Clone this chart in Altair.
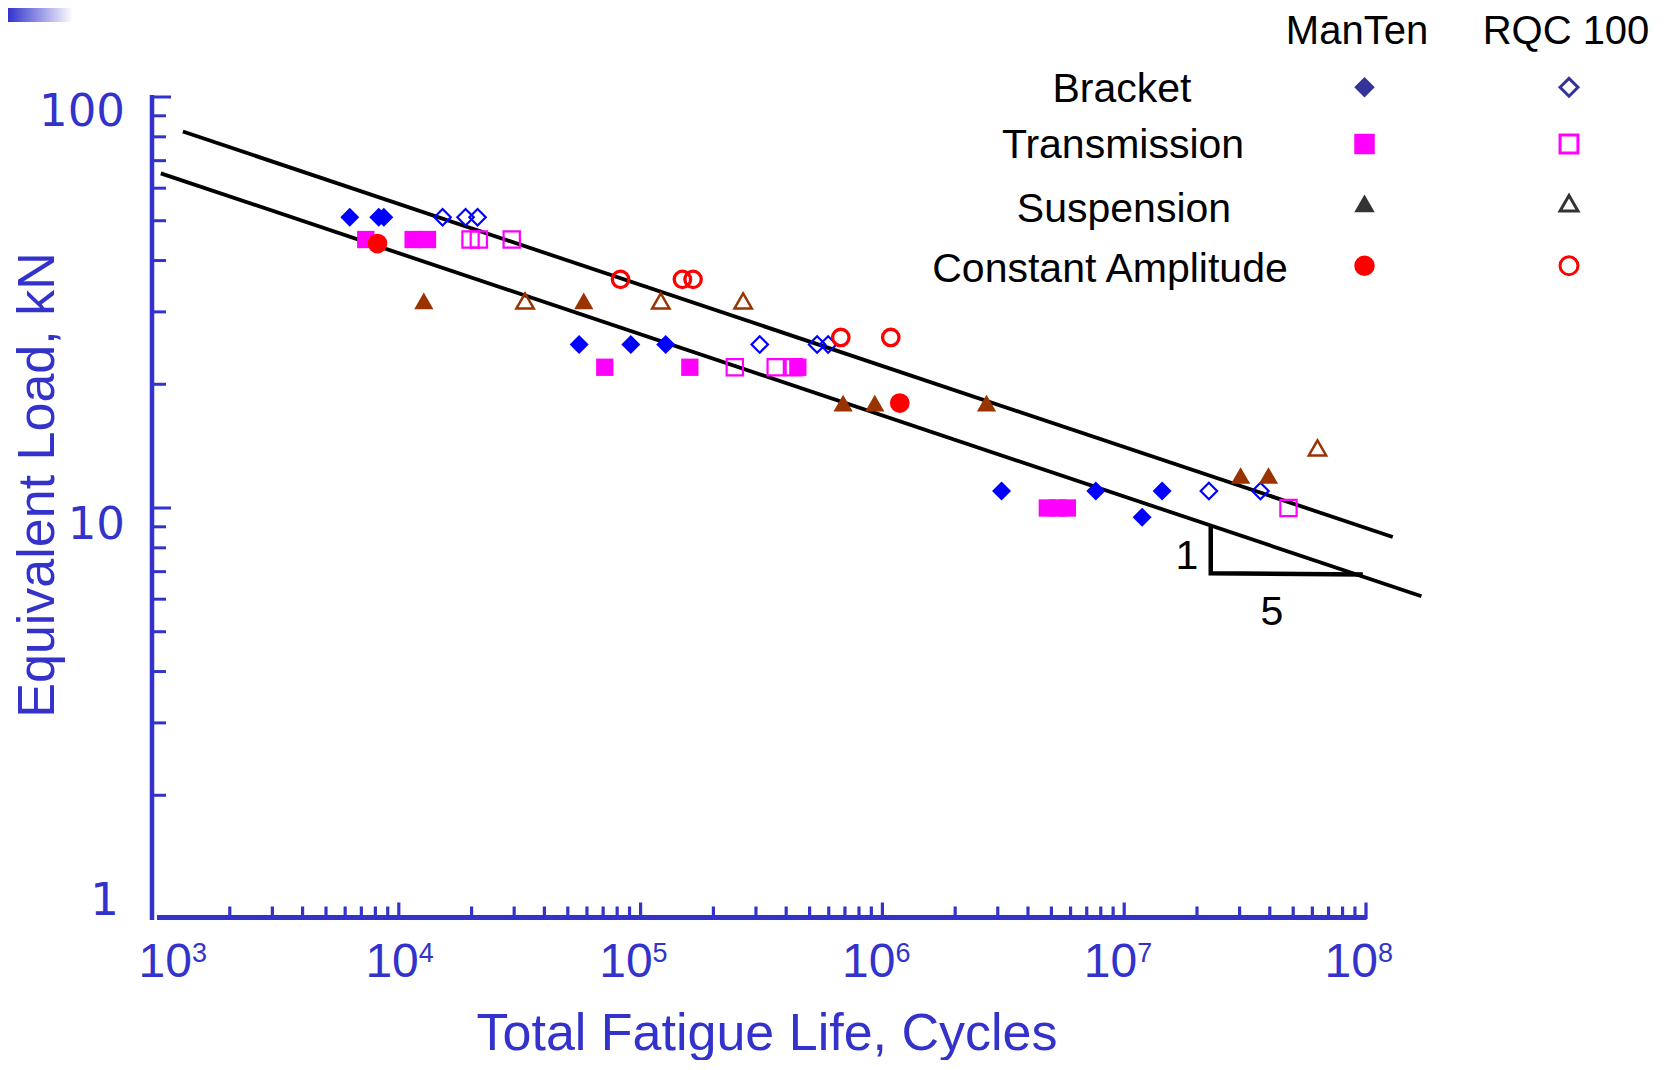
import altair as alt
import pandas as pd

AX = "#3333CC"
SANS = "Liberation Sans"

# ---------------- data ----------------
categories = ["Bracket", "Transmission", "Suspension", "Constant Amplitude"]
steels = ["ManTen", "RQC 100"]

bracket_manten_N = [6270, 8260, 8670, 55700, 91100, 127000, 3110000, 7630000, 11860000, 14350000]
bracket_manten_P = [51, 51, 51, 25, 25, 25, 11, 11, 9.5, 11]
bracket_rqc_N = [15170, 18880, 21170, 311000, 537000, 596500, 22400000, 36600000]
bracket_rqc_P = [51, 51, 51, 25, 25, 25, 11, 11]

transmission_manten_N = [7300, 11460, 13140, 71100, 159800, 447000, 4810000, 5290000, 5820000]
transmission_manten_P = [45, 45, 45, 22, 22, 22, 10, 10, 10]
transmission_rqc_N = [19800, 21430, 29310, 245200, 362000, 430000, 47800000]
transmission_rqc_P = [45, 45, 45, 22, 22, 22, 10]

suspension_manten_N = [12690, 58200, 687800, 930000, 2695000, 30300000, 39500000]
suspension_manten_P = [31.9, 31.9, 18, 18, 18, 12, 12]
suspension_rqc_N = [33290, 121200, 265500, 63000000]
suspension_rqc_P = [31.9, 31.9, 31.9, 14]

constant_manten_N = [8165, 1180000]
constant_manten_P = [44, 18]
constant_rqc_N = [82600, 148900, 164800, 673000, 1083000]
constant_rqc_P = [36, 36, 36, 26, 26]

# fitted S-N lines (end points)
upper_N = [1280, 129000000]
upper_P = [82.4, 8.5]
lower_N = [1037, 169600000]
lower_P = [65.2, 6.1]

# 1:5 slope triangle
tri_N = [22800000, 22800000, 97000000]
tri_P = [8.99, 6.94, 6.89]
slope_labels = ["1", "5"]
slope_N = [18150000, 40800000]
slope_P = [7.61, 5.565]

# axis ticks and labels
x_exponents = [3, 4, 5, 6, 7, 8]
x_major_ticks = [1e4, 1e5, 1e6, 1e7, 1e8]
x_minor_ticks = [m * 10 ** d for d in range(3, 8) for m in range(2, 10)]
y_major_ticks = [10, 100]
y_minor_ticks = [m * 10 ** d for d in range(0, 2) for m in range(2, 10)]
y_label_values = [1, 10, 100]
y_label_texts = ["1", "10", "100"]

x_title = "Total Fatigue Life, Cycles"
y_title = "Equivalent Load, kN"

# ---------------- layout ----------------
W, H = 1209, 822
xs = alt.Scale(type="log", domain=[1e3, 1e8], nice=False)
ys = alt.Scale(type="log", domain=[1, 100], nice=False)

layers = []

# corner gradient
layers.append(
    alt.Chart(pd.DataFrame({"a": [0]})).mark_rect(
        color={"gradient": "linear",
               "stops": [{"offset": 0, "color": AX}, {"offset": 1, "color": "#FFFFFF"}],
               "x1": 0, "x2": 1, "y1": 0, "y2": 0}
    ).encode(x=alt.value(-149), x2=alt.value(-84), y=alt.value(-89), y2=alt.value(-75))
)

# axis lines
layers.append(
    alt.Chart(pd.DataFrame({"a": [0]})).mark_rule(color=AX, strokeWidth=4.5).encode(
        x=alt.value(-5), y=alt.value(-2), y2=alt.value(H + 1))
)
layers.append(
    alt.Chart(pd.DataFrame({"a": [0]})).mark_rule(color=AX, strokeWidth=5).encode(
        x=alt.value(0), x2=alt.value(W + 0.5), y=alt.value(H - 1.5))
)

# inward ticks
layers.append(
    alt.Chart(pd.DataFrame({"N": x_major_ticks})).mark_rule(color=AX, strokeWidth=3.2).encode(
        x=alt.X("N:Q", scale=xs, axis=None), y=alt.value(H), y2=alt.value(H - 16.5))
)
layers.append(
    alt.Chart(pd.DataFrame({"N": x_minor_ticks})).mark_rule(color=AX, strokeWidth=3.2).encode(
        x=alt.X("N:Q", scale=xs, axis=None), y=alt.value(H), y2=alt.value(H - 12.5))
)
layers.append(
    alt.Chart(pd.DataFrame({"P": y_major_ticks})).mark_rule(color=AX, strokeWidth=3).encode(
        y=alt.Y("P:Q", scale=ys, axis=None), x=alt.value(-7), x2=alt.value(14))
)
layers.append(
    alt.Chart(pd.DataFrame({"P": y_minor_ticks})).mark_rule(color=AX, strokeWidth=3).encode(
        y=alt.Y("P:Q", scale=ys, axis=None), x=alt.value(-7), x2=alt.value(9))
)

# fit lines
fit = pd.DataFrame({"N": upper_N + lower_N, "P": upper_P + lower_P,
                    "line": ["upper"] * 2 + ["lower"] * 2})
layers.append(
    alt.Chart(fit).mark_line(color="black", strokeWidth=3.8).encode(
        x=alt.X("N:Q", scale=xs, axis=None),
        y=alt.Y("P:Q", scale=ys, axis=None),
        detail="line:N")
)

# slope triangle
tri = pd.DataFrame({"N": tri_N, "P": tri_P, "i": list(range(len(tri_N)))})
layers.append(
    alt.Chart(tri).mark_line(color="black", strokeWidth=4.5, strokeJoin="miter").encode(
        x=alt.X("N:Q", scale=xs, axis=None),
        y=alt.Y("P:Q", scale=ys, axis=None),
        order="i:Q")
)
layers.append(
    alt.Chart(pd.DataFrame({"N": slope_N, "P": slope_P, "t": slope_labels})).mark_text(
        font=SANS, fontSize=41, color="black", align="center", baseline="middle").encode(
        x=alt.X("N:Q", scale=xs, axis=None),
        y=alt.Y("P:Q", scale=ys, axis=None),
        text="t:N")
)

# data points
series = [
    ("Bracket", "ManTen", bracket_manten_N, bracket_manten_P),
    ("Bracket", "RQC 100", bracket_rqc_N, bracket_rqc_P),
    ("Transmission", "ManTen", transmission_manten_N, transmission_manten_P),
    ("Transmission", "RQC 100", transmission_rqc_N, transmission_rqc_P),
    ("Suspension", "ManTen", suspension_manten_N, suspension_manten_P),
    ("Suspension", "RQC 100", suspension_rqc_N, suspension_rqc_P),
    ("Constant Amplitude", "ManTen", constant_manten_N, constant_manten_P),
    ("Constant Amplitude", "RQC 100", constant_rqc_N, constant_rqc_P),
]
shape_of = {"Bracket": "diamond", "Transmission": "square",
            "Suspension": "triangle-up", "Constant Amplitude": "circle"}
color_of = {"Bracket": "#0000FF", "Transmission": "#FF00FF",
            "Suspension": "#993300", "Constant Amplitude": "#FF0000"}
size_filled = {"Bracket": 360, "Transmission": 300, "Suspension": 370, "Constant Amplitude": 390}
size_open = {"Bracket": 270, "Transmission": 265, "Suspension": 300, "Constant Amplitude": 270}
stroke_open = {"Bracket": 2.2, "Transmission": 2.2, "Suspension": 2.5, "Constant Amplitude": 3.3}

for cat, steel, ns, ps in series:
    d = pd.DataFrame({"N": ns, "P": ps})
    if steel == "ManTen":
        mk = alt.Chart(d).mark_point(shape=shape_of[cat], size=size_filled[cat], filled=True,
                                     color=color_of[cat], opacity=1, strokeWidth=0)
    else:
        mk = alt.Chart(d).mark_point(shape=shape_of[cat], size=size_open[cat], filled=False,
                                     color=color_of[cat], opacity=1, strokeWidth=stroke_open[cat])
    layers.append(mk.encode(x=alt.X("N:Q", scale=xs, axis=None),
                            y=alt.Y("P:Q", scale=ys, axis=None)))

# x tick labels 10^n
x_dx = {3: 35, 4: 20, 5: 12, 6: 13, 7: 13, 8: 12}
for e in x_exponents:
    d = pd.DataFrame({"N": [10.0 ** e], "b": ["10"], "s": [str(e)]})
    layers.append(
        alt.Chart(d).mark_text(font=SANS, fontSize=48, color=AX, align="right",
                               baseline="alphabetic", dx=x_dx[e]).encode(
            x=alt.X("N:Q", scale=xs, axis=None), y=alt.value(880), text="b:N"))
    layers.append(
        alt.Chart(d).mark_text(font=SANS, fontSize=27, color=AX, align="left",
                               baseline="alphabetic", dx=x_dx[e]).encode(
            x=alt.X("N:Q", scale=xs, axis=None), y=alt.value(865), text="s:N"))

# y tick labels
y_dy = {1: -17.8, 10: 17.3, 100: 14.6}
y_xr = {1: -38, 10: -32, 100: -32}
for v, t in zip(y_label_values, y_label_texts):
    d = pd.DataFrame({"P": [v], "t": [t]})
    layers.append(
        alt.Chart(d).mark_text(font="DejaVu Sans", fontSize=45, color=AX, align="right",
                               baseline="middle", dy=y_dy[v]).encode(
            y=alt.Y("P:Q", scale=ys, axis=None), x=alt.value(y_xr[v]), text="t:N"))

# axis titles
layers.append(
    alt.Chart(pd.DataFrame({"t": [x_title]})).mark_text(
        font=SANS, fontSize=52, color=AX, align="center", baseline="alphabetic").encode(
        x=alt.value(610), y=alt.value(953), text="t:N"))
layers.append(
    alt.Chart(pd.DataFrame({"t": [y_title]})).mark_text(
        font=SANS, fontSize=52, color=AX, align="center", baseline="alphabetic", angle=270).encode(
        x=alt.value(-103), y=alt.value(388), text="t:N"))

# custom two-column legend
legend_colors = ["#333399", "#FF00FF", "#333333", "#FF0000"]
legend_shapes = ["diamond", "square", "triangle-up", "circle"]
head_x = [1200, 1409]
label_x = [965, 966, 967, 953]
label_base = [4.7, 61, 124.7, 185]
marker_x = [1207.5, 1412]
marker_y = [-9.7, 47, 106.3, 168.7]

for s, hx in zip(steels, head_x):
    layers.append(
        alt.Chart(pd.DataFrame({"t": [s]})).mark_text(
            font=SANS, fontSize=40, color="black", align="center", baseline="alphabetic").encode(
            x=alt.value(hx), y=alt.value(-53), text="t:N"))

for i, cat in enumerate(categories):
    layers.append(
        alt.Chart(pd.DataFrame({"t": [cat]})).mark_text(
            font=SANS, fontSize=41, color="black", align="center", baseline="alphabetic").encode(
            x=alt.value(label_x[i]), y=alt.value(label_base[i]), text="t:N"))
    layers.append(
        alt.Chart(pd.DataFrame({"t": [cat]})).mark_point(
            shape=legend_shapes[i], size=420, filled=True, color=legend_colors[i],
            opacity=1, strokeWidth=0).encode(
            x=alt.value(marker_x[0]), y=alt.value(marker_y[i])))
    layers.append(
        alt.Chart(pd.DataFrame({"t": [cat]})).mark_point(
            shape=legend_shapes[i], size=320, filled=False, color=legend_colors[i],
            opacity=1, strokeWidth=3).encode(
            x=alt.value(marker_x[1]), y=alt.value(marker_y[i])))

chart = alt.layer(*layers).properties(
    width=W, height=H,
    padding={"left": 149, "top": 89, "right": 295, "bottom": 141},
    autosize=alt.AutoSizeParams(type="none"),
).configure_view(stroke=None)

chart.save("out.html", embed_options={"renderer": "svg", "actions": False})
